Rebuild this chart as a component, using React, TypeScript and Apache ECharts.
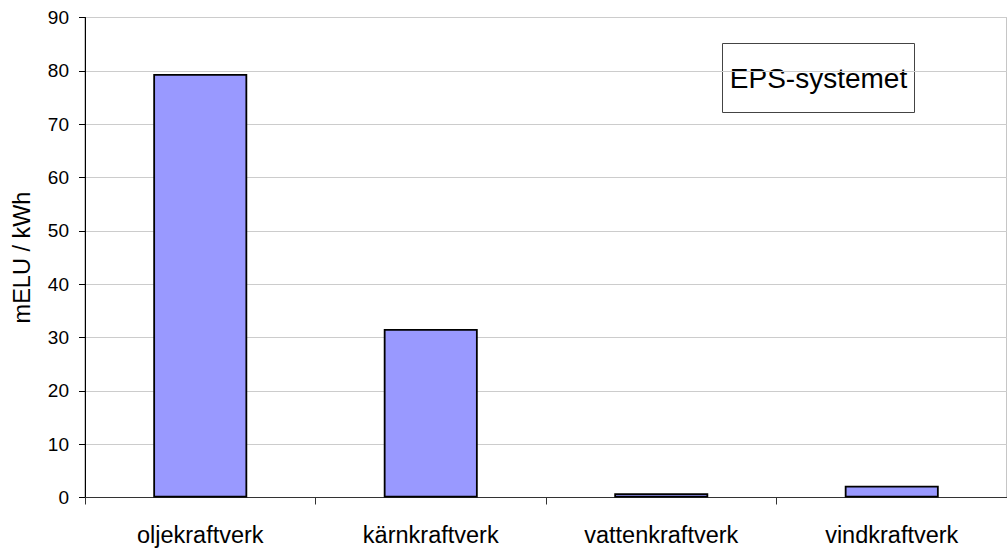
import React, { useEffect, useRef } from "react";
import * as echarts from "echarts";

const categories = ["oljekraftverk", "kärnkraftverk", "vattenkraftverk", "vindkraftverk"];
const values = [79.4, 31.6, 0.8, 2.2];
const yTicks = { min: 0, max: 90, interval: 10 };
const axisTitle = "mELU / kWh";
const boxLabel = "EPS-systemet";

export default function App() {
  const ref = useRef<HTMLDivElement>(null);
  useEffect(() => {
    document.body.style.margin = "0";
    const chart = echarts.init(ref.current!, undefined, { renderer: "svg" });
    const font = "Liberation Sans, Arial, sans-serif";
    chart.setOption({
      animation: false,
      backgroundColor: "#ffffff",
      grid: {
        left: 85,
        top: 17.5,
        width: 931,
        height: 480,
        show: true,
        borderColor: "#8c8c8c",
        borderWidth: 1,
        backgroundColor: "transparent",
      },
      xAxis: {
        type: "category",
        data: categories,
        axisLine: { lineStyle: { color: "#333333", width: 1 } },
        axisTick: { show: true, length: 7, lineStyle: { color: "#333333" } },
        axisLabel: { color: "#000", fontSize: 23.5, fontFamily: font, margin: 25 },
        splitLine: { show: false },
      },
      yAxis: {
        type: "value",
        min: yTicks.min,
        max: yTicks.max,
        interval: yTicks.interval,
        name: axisTitle,
        nameLocation: "middle",
        nameGap: 51,
        nameTextStyle: { color: "#000", fontSize: 23.5, fontFamily: font },
        axisLine: { show: true, lineStyle: { color: "#000", width: 1 } },
        axisTick: { show: true, length: 6, lineStyle: { color: "#000" } },
        axisLabel: { color: "#000", fontSize: 19, fontFamily: font, margin: 16 },
        splitLine: { show: true, lineStyle: { color: "#cccccc", width: 1 } },
      },
      series: [
        {
          type: "bar",
          data: values,
          barWidth: 94,
          itemStyle: { color: "#9999ff", borderColor: "#000", borderWidth: 1.8 },
        },
      ],
      graphic: [
        {
          type: "group",
          left: 722,
          top: 43,
          children: [
            {
              type: "rect",
              shape: { x: 0, y: 0, width: 192, height: 69 },
              style: { fill: "#fff", stroke: "#444", lineWidth: 1 },
            },
            {
              type: "text",
              x: 96,
              y: 35,
              style: {
                text: boxLabel,
                fill: "#000",
                font: `28px ${font}`,
                align: "center",
                verticalAlign: "middle",
              },
            },
          ],
        },
      ],
    });
    return () => chart.dispose();
  }, []);
  return <div ref={ref} style={{ width: 1007, height: 549 }} />;
}
